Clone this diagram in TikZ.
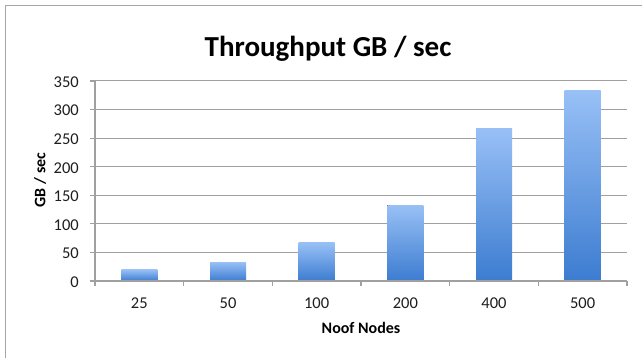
\documentclass[tikz,border=0pt]{standalone}
\usepackage{fontspec}
\setmainfont{Carlito}
\definecolor{gridgray}{RGB}{160,160,160}
\definecolor{framegray}{RGB}{165,165,165}
\definecolor{barTop}{RGB}{152,192,246}
\definecolor{barBot}{RGB}{60,124,208}
\definecolor{labelgray}{RGB}{30,30,30}
\begin{document}
\begin{tikzpicture}[x=1pt,y=-1pt,
  gridline/.style={draw=gridgray, line width=1pt},
  axisline/.style={draw=gridgray, line width=1.2pt},
  ticklab/.style={font=\fontsize{16.5}{19}\selectfont, text=labelgray, inner sep=0pt},
  axtitle/.style={font=\bfseries\fontsize{16}{19}\selectfont, inner sep=0pt},
  charttitle/.style={font=\bfseries\fontsize{29}{34}\selectfont, inner sep=0pt},
  barfill/.style={top color=barTop, bottom color=barBot, draw=none}]
\useasboundingbox (0,0) rectangle (642,358);
\fill[white] (0,0) rectangle (642,358);
% chart frame (top and left edges)
\draw[framegray, line width=1.5pt] (5.5,360) -- (5.5,5.5) -- (645,5.5);

% plot geometry: zero line at y=281, 350 units over 200pt, six categories
\def\yzero{281}
\def\xleft{95}
\def\xright{627}
\pgfmathsetmacro{\catw}{(\xright-\xleft)/6}

% horizontal gridlines and value labels
\foreach \v in {0,50,...,350} {
  \pgfmathsetmacro{\yy}{\yzero-\v*4/7}
  \ifnum\v>0
    \draw[gridline] (\xleft,\yy) -- (\xright,\yy);
  \fi
  \draw[axisline] (90,\yy) -- (\xleft,\yy);
  \node[ticklab, anchor=east] (ylab\v) at (79,\yy+1) {\v};
}

% bars
\foreach \i/\lab/\v in {0/25/20, 1/50/33, 2/100/67, 3/200/133, 4/400/267, 5/500/333} {
  \pgfmathsetmacro{\cx}{\xleft+(\i+0.5)*\catw}
  \pgfmathsetmacro{\ytop}{\yzero-\v*4/7}
  \fill[barfill] (\cx-18,\ytop) rectangle (\cx+18,\yzero);
  \node[ticklab] (xlab\lab) at (\cx,303.5) {\lab};
}

% axes
\draw[axisline] (\xleft,\yzero-200) -- (\xleft,\yzero);
\draw[axisline] (\xleft,\yzero) -- (\xright,\yzero);
\foreach \k in {0,...,6} {
  \pgfmathsetmacro{\tx}{\xleft+\k*\catw}
  \draw[axisline] (\tx,\yzero) -- (\tx,\yzero+5);
}

% titles
\node[charttitle, anchor=base] (title) at (328,57) {Throughput GB / sec};
\node[axtitle, rotate=90] (ytitle) at (40,180) {GB / sec};
\node[axtitle] (xtitle) at (361,328) {Noof Nodes};
\end{tikzpicture}
\end{document}
